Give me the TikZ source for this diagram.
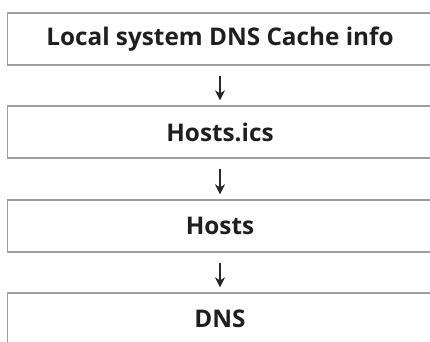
\documentclass[tikz,border=0pt]{standalone}
\usepackage{fontspec}
\setmainfont{Open Sans}
\usetikzlibrary{arrows.meta}
\definecolor{boxline}{rgb}{0.62,0.62,0.62}
\tikzset{
  stagebox/.style={draw=boxline, line width=1.3pt, rectangle, minimum width=425pt, minimum height=52pt, inner sep=0pt, font=\fontsize{24.3}{28}\selectfont\bfseries, text=black!88},
  flowarrow/.style={line width=2pt, black!85, -{Stealth[length=10pt,width=10pt,inset=3pt]}, shorten <=10pt, shorten >=5pt}
}
\begin{document}
\begin{tikzpicture}[x=1pt,y=-1pt]
\useasboundingbox (0,0) rectangle (430,341);
\clip (0,0) rectangle (430,341);
\fill[white] (0,0) rectangle (430,341);
\node[stagebox] (a) at (220,39) {Local system DNS Cache info};
\node[stagebox] (b) at (220,132) {Hosts.ics};
\node[stagebox] (c) at (220,226) {Hosts};
\node[stagebox] (d) at (220,319) {DNS};
\draw[flowarrow] (a.south) -- (b.north);
\draw[flowarrow] (b.south) -- (c.north);
\draw[flowarrow] (c.south) -- (d.north);
\end{tikzpicture}
\end{document}
